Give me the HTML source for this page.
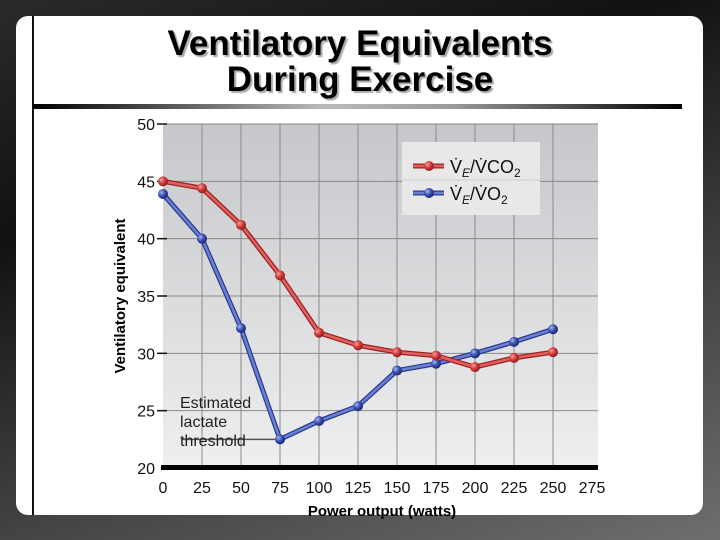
<!DOCTYPE html>
<html><head><meta charset="utf-8">
<style>
html,body{margin:0;padding:0;}
body{width:720px;height:540px;overflow:hidden;position:relative;font-family:"Liberation Sans",Arial,sans-serif;
background:linear-gradient(160deg,#2a2a2a 0%,#111 30%,#3a3a3a 60%,#6e6e6e 100%);}
#slide{position:absolute;left:16px;top:16px;width:687px;height:499px;background:#fff;border-radius:12px;}
#vline{position:absolute;left:32px;top:16px;width:2px;height:499px;background:#111;}
#rule{position:absolute;left:33px;top:104px;width:649px;height:5px;background:linear-gradient(90deg,#000 0%,#bbb 45%,#999 65%,#000 100%);}
#title{position:absolute;left:60px;top:26px;width:600px;text-align:center;font-weight:bold;font-size:35px;line-height:36px;color:#000;text-shadow:2px 2px 1px #aaa;}
svg{position:absolute;left:0;top:0;}
</style></head><body>
<div id="slide"></div>
<div id="vline"></div>
<div id="title">Ventilatory Equivalents<br>During Exercise</div>
<div id="rule"></div>
<svg id="chart" width="720" height="540">
<defs>
<linearGradient id="bg" x1="0" y1="0" x2="0" y2="1"><stop offset="0" stop-color="#c6c7ca"/><stop offset="1" stop-color="#eeeff0"/></linearGradient>
<radialGradient id="rg" cx="0.35" cy="0.35" r="0.7"><stop offset="0" stop-color="#f4a0a0"/><stop offset="0.5" stop-color="#d23a3a"/><stop offset="1" stop-color="#8a1a1a"/></radialGradient>
<radialGradient id="bgr" cx="0.35" cy="0.35" r="0.7"><stop offset="0" stop-color="#a8b8f0"/><stop offset="0.5" stop-color="#3a4fb0"/><stop offset="1" stop-color="#1a2470"/></radialGradient>
</defs>
</svg>
<script>
const xTicks=[0,25,50,75,100,125,150,175,200,225,250,275];
const yTicks=[20,25,30,35,40,45,50];
const watts=[0,25,50,75,100,125,150,175,200,225,250];
const veVco2=[45.0,44.4,41.2,36.8,31.8,30.7,30.1,29.8,28.8,29.6,30.1];
const veVo2=[43.9,40.0,32.2,22.5,24.1,25.4,28.5,29.1,30.0,31.0,32.1];
const NS="http://www.w3.org/2000/svg";
const svg=document.getElementById('chart');
const X=v=>163+v*(592-163)/275;
const Y=v=>468-(v-20)*(468-124)/30;
function mk(t,a,p){const e=document.createElementNS(NS,t);for(const k in a)e.setAttribute(k,a[k]);(p||svg).appendChild(e);return e;}
let r=mk('rect',{x:163,y:124,width:435,height:344,fill:'url(#bg)'});


xTicks.forEach(t=>{
 if(t>0&&t<275){let g=mk('line',{x1:X(t),x2:X(t),y1:124,y2:468,stroke:'#8a8a8a','stroke-width':1});
 
 }
 let tx=mk('text',{x:X(t),y:493,'text-anchor':'middle','font-size':16,fill:'#111'});tx.textContent=t;
 
 
});
yTicks.forEach(t=>{
 if(t>20){let g=mk('line',{x1:163,x2:598,y1:Y(t),y2:Y(t),stroke:'#8a8a8a','stroke-width':1});
 
 
 mk('line',{x1:157,x2:167,y1:Y(t),y2:Y(t),stroke:'#111','stroke-width':1.5});}
 let tx=mk('text',{x:155,y:Y(t)+6,'text-anchor':'end','font-size':16,fill:'#111'});tx.textContent=t;
 
 
});
let ax=mk('rect',{x:161,y:465,width:437,height:5,fill:'#000'});


let lg=mk('rect',{x:402,y:142,width:138,height:73,fill:'#e8e8e9'});


mk('line',{x1:402,x2:540,y1:180,y2:180,stroke:'#ccc'});
function series(vals,col,dark,grad,name){
 const pts=watts.map((w,i)=>X(w)+','+Y(vals[i])).join(' ');
 let s=mk('polyline',{points:pts,fill:'none',stroke:dark,'stroke-width':5,'stroke-linejoin':'round'});
 
 
 let l=mk('polyline',{points:pts,fill:'none',stroke:col,'stroke-width':2.5,'stroke-linejoin':'round'});
 
 
 watts.forEach((w,i)=>{let c=mk('circle',{cx:X(w),cy:Y(vals[i]),r:5,fill:'url(#'+grad+')'});
 
 });
}
mk('line',{x1:182,x2:275,y1:Y(22.5),y2:Y(22.5),stroke:'#555','stroke-width':1.5});
series(veVo2,'#6b80d0','#2a3a90','bgr','ve-vo2');
series(veVco2,'#e06060','#a02020','rg','ve-vco2');
[['#e06060','#a02020','rg',166,'legend-entry-vco2','CO'],['#6b80d0','#2a3a90','bgr',193,'legend-entry-vo2','O']].forEach(d=>{
 mk('line',{x1:413,x2:444,y1:d[3],y2:d[3],stroke:d[1],'stroke-width':5});
 mk('line',{x1:413,x2:444,y1:d[3],y2:d[3],stroke:d[0],'stroke-width':2.5});
 mk('circle',{cx:429,cy:d[3],r:5,fill:'url(#'+d[2]+')'});
 let t=mk('text',{x:450,y:d[3]+7,'font-size':18,fill:'#111'});
 t.innerHTML='V̇<tspan font-size="12" dy="4" font-style="italic">E</tspan><tspan dy="-4">/V̇'+d[5]+'</tspan><tspan font-size="12" dy="4">2</tspan>';
 
 
});
['Estimated','lactate','threshold'].forEach((s,i)=>{let t=mk('text',{x:180,y:408+i*19,'font-size':16,fill:'#222'});t.textContent=s;
 
 });
let yt=mk('text',{x:0,y:0,'font-size':15,'font-weight':'bold',fill:'#000','text-anchor':'middle',transform:'translate(125,296) rotate(-90)'});yt.textContent='Ventilatory equivalent';


let xt=mk('text',{x:382,y:516,'font-size':15,'font-weight':'bold',fill:'#000','text-anchor':'middle'});xt.textContent='Power output (watts)';


</script>
</body></html>
